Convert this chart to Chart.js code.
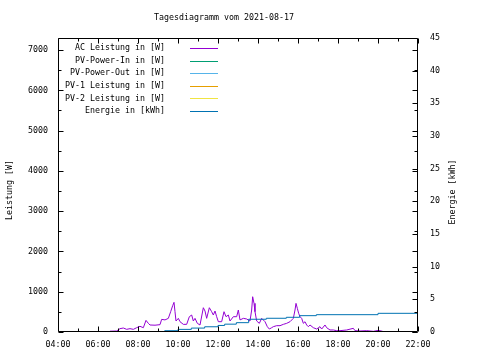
<!DOCTYPE html>
<html><head><meta charset="utf-8">
<script src="https://cdn.jsdelivr.net/npm/chart.js@4/dist/chart.umd.min.js"></script>
<style>html,body{margin:0;padding:0;background:#fff}canvas{display:block}</style>
</head><body>
<canvas id="c" width="480" height="360"></canvas>
<script>
const TITLE = 'Tagesdiagramm vom 2021-08-17';
const Y_TITLE = 'Leistung [W]';
const Y2_TITLE = 'Energie [kWh]';
const X_MIN = 4, X_MAX = 22;
const Y_MAX = 7300, Y2_MAX = 45;
const X_TICKS = [4, 6, 8, 10, 12, 14, 16, 18, 20, 22];
const Y_TICKS = [0, 1000, 2000, 3000, 4000, 5000, 6000, 7000];
const Y2_TICKS = [0, 5, 10, 15, 20, 25, 30, 35, 40, 45];

const SERIES_LABELS = ['AC Leistung in [W]', 'PV-Power-In in [W]', 'PV-Power-Out in [W]',
  'PV-1 Leistung in [W]', 'PV-2 Leistung in [W]', 'Energie in [kWh]'];
const SERIES_COLORS = ['#9400d3', '#009e73', '#56b4e9', '#e69f00', '#f0e442', '#0072b2'];

const acTime = ['06:36','06:56','07:06','07:16','07:26','07:36','07:46','07:56','08:06','08:16','08:24','08:31','08:36','08:51','09:06','09:11','09:21','09:31','09:38','09:44','09:48','09:51','09:54','10:01','10:06','10:16','10:26','10:34','10:41','10:46','10:51','10:58','11:06','11:16','11:21','11:26','11:34','11:41','11:46','11:51','11:56','12:01','12:11','12:18','12:24','12:31','12:36','12:46','12:56','13:01','13:06','13:16','13:26','13:36','13:41','13:44','13:48','13:51','13:56','14:04','14:11','14:21','14:28','14:34','14:41','14:46','14:56','15:06','15:16','15:26','15:36','15:46','15:51','15:54','15:58','16:02','16:06','16:11','16:16','16:21','16:26','16:31','16:36','16:46','16:56','17:06','17:11','17:21','17:26','17:36','17:46','17:56','18:06','18:26','18:46','18:51','19:06','19:26','19:46','20:01','20:14'];
const acPower = [20,25,83,99,66,83,66,107,141,107,289,215,174,169,182,314,300,339,504,653,736,504,273,339,256,190,190,380,422,273,339,215,174,603,521,339,603,504,422,521,380,256,256,504,380,422,273,380,380,546,300,339,323,273,546,876,711,504,273,215,339,256,132,74,107,132,157,157,190,215,256,339,546,711,587,463,380,339,215,256,174,132,174,107,74,132,74,174,107,50,50,33,33,50,91,33,25,33,17,41,17];

const energyTime = ['07:40','08:40','09:20','10:00','10:40','11:20','12:00','12:20','12:55','13:32','14:25','15:25','16:05','16:55','20:00','22:00'];
const energyKWh = [0, 0.05, 0.2, 0.4, 0.6, 0.8, 1.0, 1.2, 1.43, 1.95, 2.1, 2.25, 2.5, 2.65, 2.86, 2.86];

const pvInTime = [], pvIn = [];
const pvOutTime = [], pvOut = [];
const pv1Time = [], pv1 = [];
const pv2Time = [], pv2 = [];

const FONT = {family: "'DejaVu Sans Mono', monospace", size: 8.3};

function hrs(s) { const [h, m] = s.split(':').map(Number); return h + m / 60; }
function pts(t, v) { return t.map((s, i) => ({x: hrs(s), y: v[i]})); }
function fmtH(v) { return String(Math.round(v)).padStart(2, '0') + ':00'; }

const series = [pts(acTime, acPower), pts(pvInTime, pvIn), pts(pvOutTime, pvOut),
  pts(pv1Time, pv1), pts(pv2Time, pv2), pts(energyTime, energyKWh)];

const datasets = series.map((d, i) => ({
  label: SERIES_LABELS[i], data: d, borderColor: SERIES_COLORS[i],
  borderWidth: 1, pointRadius: 0, fill: false, tension: 0,
  yAxisID: i === 5 ? 'y2' : 'y', stepped: i === 5 ? 'before' : false,
  order: i === 5 ? 0 : i + 1
}));

const decor = {
  id: 'decor',
  afterDraw(chart) {
    const ctx = chart.ctx, a = chart.chartArea;
    const sx = chart.scales.x, sy = chart.scales.y, sy2 = chart.scales.y2;
    ctx.save();
    ctx.strokeStyle = '#000'; ctx.lineWidth = 1;
    const L = Math.round(a.left) + 0.5, R = Math.round(a.right) - 0.5;
    const T = Math.round(a.top) + 0.5, B = Math.round(a.bottom) - 0.5;
    ctx.beginPath();
    ctx.rect(L, T, R - L, B - T);
    for (let h = X_MIN; h <= X_MAX; h++) {
      const px = Math.round(sx.getPixelForValue(h)) + 0.5;
      const len = (h % 2 === 0) ? 5 : 3;
      ctx.moveTo(px, B); ctx.lineTo(px, B - len);
      ctx.moveTo(px, T); ctx.lineTo(px, T + len);
    }
    for (let v = 0; v <= 7000; v += 500) {
      const py = Math.round(sy.getPixelForValue(v)) + 0.5;
      const len = (v % 1000 === 0) ? 5 : 3;
      ctx.moveTo(L, py); ctx.lineTo(L + len, py);
      ctx.moveTo(R, py); ctx.lineTo(R - len, py);
    }
    Y2_TICKS.forEach(v => {
      const py = Math.round(sy2.getPixelForValue(v)) + 0.5;
      ctx.moveTo(R, py); ctx.lineTo(R - 5, py);
    });
    ctx.stroke();

    ctx.fillStyle = '#000';
    ctx.font = FONT.size + 'px ' + FONT.family;
    ctx.textBaseline = 'middle';
    ctx.textAlign = 'center';
    ctx.fillText(TITLE, 224, 18);
    ctx.save(); ctx.translate(10, 190); ctx.rotate(-Math.PI / 2); ctx.fillText(Y_TITLE, 0, 0); ctx.restore();
    ctx.save(); ctx.translate(453, 192); ctx.rotate(-Math.PI / 2); ctx.fillText(Y2_TITLE, 0, 0); ctx.restore();

    ctx.textAlign = 'right';
    chart.data.datasets.forEach((ds, i) => {
      const y = 48 + i * 12.6;
      ctx.fillStyle = '#000';
      ctx.fillText(ds.label, 165, y);
      ctx.strokeStyle = ds.borderColor;
      ctx.beginPath();
      const ly = Math.round(y) + 0.5;
      ctx.moveTo(190, ly); ctx.lineTo(218, ly);
      ctx.stroke();
    });
    ctx.restore();
  }
};

new Chart(document.getElementById('c'), {
  type: 'line',
  data: {datasets},
  options: {
    responsive: false, animation: false, devicePixelRatio: 1,
    layout: {padding: {top: 38, left: 0, right: 0, bottom: 0}},
    plugins: {legend: {display: false}, title: {display: false}, tooltip: {enabled: false}},
    scales: {
      x: {
        type: 'linear', min: X_MIN, max: X_MAX,
        grid: {display: false, drawTicks: false}, border: {display: false},
        afterBuildTicks: s => { s.ticks = X_TICKS.map(v => ({value: v})); },
        afterFit: s => { s.height = 28; },
        ticks: {color: '#000', font: FONT, padding: 8, maxRotation: 0, autoSkip: false, callback: v => fmtH(v)}
      },
      y: {
        type: 'linear', position: 'left', min: 0, max: Y_MAX,
        grid: {display: false, drawTicks: false}, border: {display: false},
        afterBuildTicks: s => { s.ticks = Y_TICKS.map(v => ({value: v})); },
        afterFit: s => { s.width = 58; },
        ticks: {color: '#000', font: FONT, padding: 10, callback: v => String(v)}
      },
      y2: {
        type: 'linear', position: 'right', min: 0, max: Y2_MAX,
        grid: {display: false, drawTicks: false}, border: {display: false},
        afterBuildTicks: s => { s.ticks = Y2_TICKS.map(v => ({value: v})); },
        afterFit: s => { s.width = 62; },
        ticks: {color: '#000', font: FONT, padding: 12, callback: v => String(v)}
      }
    }
  },
  plugins: [decor]
});
</script>
</body></html>
